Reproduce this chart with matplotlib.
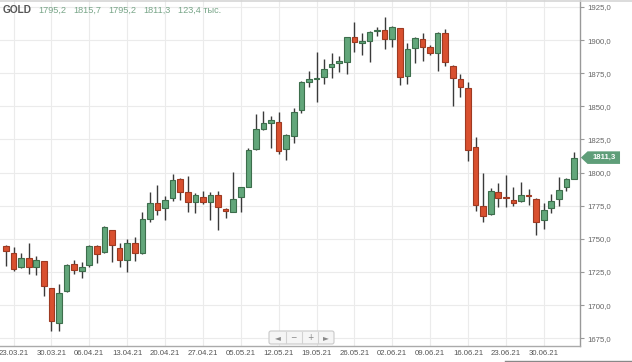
import matplotlib
matplotlib.use('Agg')
import matplotlib.pyplot as plt
import numpy as np
from matplotlib.patches import Polygon, FancyBboxPatch
from matplotlib.ticker import FuncFormatter, MultipleLocator
import matplotlib.transforms as mtransforms

# daily candles GOLD, 22.03.21 - 01.07.21
opens = [1744.8, 1739.0, 1728.5, 1735.3, 1728.5, 1733.0, 1712.6, 1686.6, 1710.6, 1730.7,
         1725.5, 1730.0, 1744.8, 1739.8, 1756.6, 1743.3, 1734.0, 1746.6, 1739.0, 1764.7,
         1777.2, 1773.0, 1781.0, 1795.4, 1785.6, 1777.5, 1781.5, 1778.0, 1783.0, 1772.5,
         1770.5, 1781.8, 1789.4, 1817.8, 1832.7, 1837.6, 1838.0, 1817.8, 1827.8, 1847.2,
         1868.6, 1870.6, 1871.9, 1879.5, 1883.0, 1883.7, 1902.6, 1898.0, 1899.3, 1907.2,
         1907.4, 1901.1, 1908.9, 1872.9, 1893.8, 1900.8, 1894.6, 1890.0, 1905.1, 1880.5,
         1870.4, 1863.6, 1819.5, 1775.0, 1768.5, 1785.6, 1781.3, 1779.3, 1778.5, 1782.9,
         1780.0, 1764.2, 1773.0, 1779.8, 1788.9, 1795.2]
highs = [1745.2, 1743.6, 1739.5, 1746.6, 1737.2, 1733.5, 1713.0, 1715.6, 1731.0, 1734.0,
         1732.7, 1745.5, 1745.3, 1759.7, 1757.0, 1747.0, 1749.6, 1751.1, 1770.5, 1785.0,
         1790.6, 1782.5, 1798.7, 1795.8, 1797.4, 1784.5, 1786.3, 1785.0, 1786.3, 1773.0,
         1800.2, 1789.5, 1818.3, 1844.0, 1846.5, 1842.7, 1846.0, 1829.5, 1848.5, 1869.0,
         1876.7, 1891.3, 1885.7, 1890.5, 1888.2, 1902.5, 1913.4, 1905.1, 1907.0, 1910.1,
         1917.2, 1911.0, 1909.5, 1897.6, 1902.0, 1905.6, 1896.0, 1906.0, 1908.4, 1881.0,
         1874.4, 1868.1, 1827.1, 1799.4, 1788.1, 1791.9, 1798.2, 1789.3, 1792.6, 1787.6,
         1780.5, 1776.8, 1783.8, 1796.4, 1796.0, 1815.7]
lows = [1729.5, 1725.9, 1728.0, 1723.4, 1722.7, 1707.0, 1680.6, 1680.4, 1710.0, 1723.2,
        1720.2, 1729.0, 1732.0, 1739.0, 1732.7, 1728.5, 1724.7, 1733.5, 1738.5, 1762.4,
        1768.0, 1764.2, 1778.8, 1779.3, 1770.5, 1769.2, 1776.0, 1764.2, 1756.6, 1765.5,
        1770.0, 1770.5, 1789.0, 1817.0, 1832.0, 1818.3, 1813.8, 1809.5, 1822.1, 1844.7,
        1864.4, 1853.5, 1866.6, 1871.2, 1876.2, 1874.4, 1891.3, 1888.8, 1883.2, 1903.1,
        1893.3, 1895.0, 1865.9, 1866.9, 1882.5, 1884.2, 1888.8, 1876.7, 1880.5, 1850.3,
        1857.3, 1809.0, 1771.2, 1762.9, 1768.0, 1773.8, 1774.2, 1775.0, 1778.0, 1775.5,
        1752.9, 1757.6, 1769.2, 1775.0, 1786.1, 1795.2]
closes = [1741.0, 1727.2, 1735.3, 1728.5, 1734.0, 1714.3, 1687.9, 1709.3, 1730.0, 1726.4,
          1729.0, 1744.8, 1738.3, 1758.7, 1745.3, 1734.0, 1746.6, 1739.5, 1764.7, 1777.2,
          1771.7, 1779.3, 1794.4, 1785.6, 1777.5, 1782.8, 1778.0, 1783.3, 1774.2, 1770.8,
          1780.0, 1788.9, 1817.0, 1832.9, 1837.6, 1839.7, 1816.3, 1828.6, 1845.5, 1868.1,
          1870.4, 1871.3, 1878.2, 1881.7, 1884.0, 1902.1, 1898.8, 1899.0, 1906.1, 1907.6,
          1900.6, 1910.1, 1871.9, 1893.0, 1901.4, 1895.0, 1890.5, 1905.1, 1883.2, 1871.2,
          1864.8, 1817.0, 1775.5, 1767.4, 1786.1, 1780.6, 1780.6, 1777.3, 1783.0, 1782.3,
          1762.9, 1771.7, 1778.5, 1786.8, 1795.1, 1811.3]
date_labels = ['23.03.21', '30.03.21', '06.04.21', '13.04.21', '20.04.21', '27.04.21',
               '05.05.21', '12.05.21', '19.05.21', '26.05.21', '02.06.21', '09.06.21',
               '16.06.21', '23.06.21', '30.06.21']
header_values = ['1795,2', '1815,7', '1795,2', '1811,3', '123,4 тыс.']

W, H = 632, 362
fig = plt.figure(figsize=(W / 100, H / 100), dpi=100)
ax = fig.add_axes([0, (H - 346) / H, 580 / W, 346 / H])

o = np.array(opens)
c = np.array(closes)
x = np.arange(len(o))
up = c >= o
green, green_edge = '#62a67a', '#3d6e4c'
red, red_edge = '#d9502f', '#9e3a22'

ax.vlines(x, lows, highs, color='#3a3a3a', linewidth=1.0, zorder=2)
bottom = np.minimum(o, c)
height = np.maximum(np.abs(c - o), 0.8)
ax.bar(x[up], height[up], bottom=bottom[up], width=0.74, color=green,
       edgecolor=green_edge, linewidth=0.8, zorder=3)
ax.bar(x[~up], height[~up], bottom=bottom[~up], width=0.74, color=red,
       edgecolor=red_edge, linewidth=0.8, zorder=3)

ax.set_xlim(-0.79, len(o) - 0.21)
ax.set_ylim(1669.1, 1930.3)

ax.set_xticks(np.arange(1, len(o), 5)[:len(date_labels)])
ax.set_xticklabels(date_labels)
ax.yaxis.set_major_locator(MultipleLocator(25))
ax.yaxis.set_major_formatter(FuncFormatter(lambda v, p: ('%.1f' % v).replace('.', ',')))
ax.yaxis.tick_right()
ax.tick_params(axis='y', length=3, color='#999999', labelcolor='#666666', labelsize=5.6, pad=2)
ax.tick_params(axis='x', length=0, labelcolor='#555555', labelsize=5.6, pad=3)
for lab in ax.get_xticklabels() + ax.get_yticklabels():
    lab.set_family('Liberation Sans')

ax.grid(True, color='#ebebeb', linewidth=0.8, zorder=0)
ax.set_axisbelow(True)
for s in ['left', 'top']:
    ax.spines[s].set_visible(False)
ax.spines['right'].set_color('#999999')
ax.spines['bottom'].set_color('#aaaaaa')
ax.spines['right'].set_linewidth(1.0)
ax.spines['bottom'].set_linewidth(1.0)

# last price tag on the right axis
last = closes[-1]
tr = mtransforms.blended_transform_factory(ax.transAxes, ax.transData)
hh = 4.75
tag = Polygon([(1.0015, last), (1.013, last + hh), (1.069, last + hh),
               (1.069, last - hh), (1.013, last - hh)], closed=True,
              transform=tr, facecolor='#5f9e79', edgecolor='none', clip_on=False, zorder=5)
ax.add_patch(tag)
ax.text(1.041, last, ('%.1f' % last).replace('.', ','), transform=tr, color='white',
        fontsize=5.6, fontweight='bold', ha='center', va='center',
        family='Liberation Sans', zorder=6)

# overlay in pixel coords for header and navigation
ov = fig.add_axes([0, 0, 1, 1], zorder=10)
ov.set_xlim(0, W)
ov.set_ylim(H, 0)
ov.axis('off')
ov.patch.set_alpha(0)

ov.plot([0, W], [0.6, 0.6], color='#d5d5d5', linewidth=1.2)
ov.text(3, 10, 'GOLD', fontsize=7.3, fontweight='bold', color='#555555',
        va='center', ha='left', family='Liberation Sans')
hx = [38, 73, 108, 143, 178]
for xx, t in zip(hx, header_values):
    ov.text(xx, 10, t, fontsize=6.6, color='#78a588', va='center', ha='left',
            family='Liberation Sans')

box = FancyBboxPatch((269, 331), 65, 13, boxstyle='round,pad=0,rounding_size=2',
                     facecolor='#f5f5f5', edgecolor='#c9c9c9', linewidth=0.8)
ov.add_patch(box)
for sx in [285.5, 301.5, 318]:
    ov.plot([sx, sx], [332, 343], color='#d2d2d2', linewidth=0.8)
for bx, sym in zip([277.5, 293.5, 310, 326], ['◄', '−', '+', '►']):
    ov.text(bx, 337.5, sym, fontsize=5.5, color='#888888', ha='center', va='center',
            family='DejaVu Sans')

ov.plot([505, W], [360.8, 360.8], color='#888888', linewidth=1.0)

fig.savefig('out.png', dpi=100)
